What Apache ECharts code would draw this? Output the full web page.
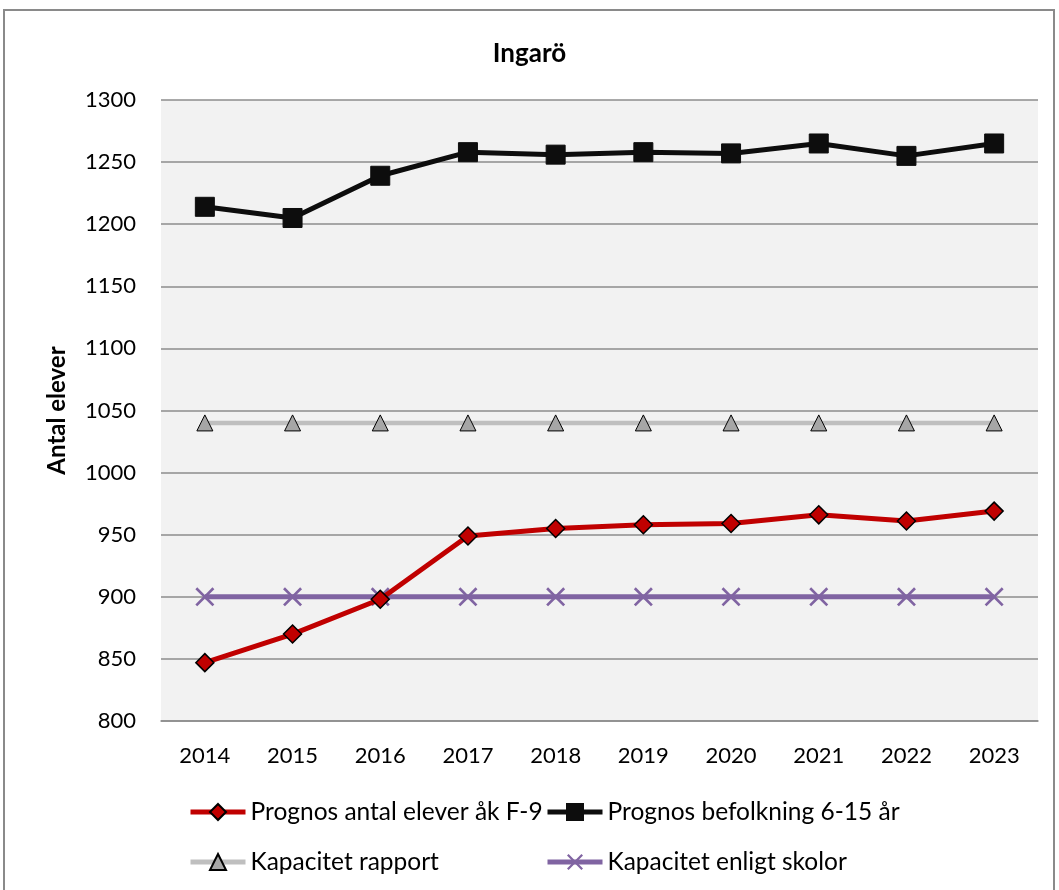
<!DOCTYPE html>
<html>
<head>
<meta charset="utf-8">
<script src="https://cdn.jsdelivr.net/npm/echarts@6/dist/echarts.min.js"></script>
<style>
  html, body { margin: 0; padding: 0; background: #fff; }
  #chart { width: 1059px; height: 890px; }
</style>
</head>
<body>
<div id="chart"></div>
<script>
// kategorier och serier
var years = ['2014', '2015', '2016', '2017', '2018', '2019', '2020', '2021', '2022', '2023'];
var elever = [847, 870, 898, 949, 955, 958, 959, 966, 961, 969];       // Prognos antal elever åk F-9
var befolkning = [1214, 1205, 1239, 1258, 1256, 1258, 1257, 1265, 1255, 1265]; // Prognos befolkning 6-15 år
var kapRapport = [1040, 1040, 1040, 1040, 1040, 1040, 1040, 1040, 1040, 1040];
var kapSkolor = [900, 900, 900, 900, 900, 900, 900, 900, 900, 900];

var fontFam = 'Lato, "Open Sans", sans-serif';
// kryss-symbol (fylld polygon)
var crossPath = 'path://M0,1L1,0L5,4L9,0L10,1L6,5L10,9L9,10L5,6L1,10L0,9L4,5Z';

var legendText = { fontFamily: fontFam, fontSize: 24.5, color: '#000', lineHeight: 28 };

var chart = echarts.init(document.getElementById('chart'));
var option = {
    animation: false,
    textStyle: { fontFamily: fontFam },
    graphic: [{
        type: 'rect',
        shape: { x: 4, y: 10, width: 1050, height: 900 },
        style: { fill: 'none', stroke: '#8a8a8a', lineWidth: 2 },
        silent: true
    }],
    title: {
        text: 'Ingarö',
        left: 'center',
        top: 36,
        textStyle: { fontFamily: fontFam, fontSize: 26, fontWeight: 'bold', color: '#000' }
    },
    grid: {
        left: 161, right: 21, top: 100, bottom: 169,
        show: true, backgroundColor: '#F2F2F2', borderWidth: 0
    },
    legend: [{
        orient: 'vertical',
        left: 188, top: 798, padding: 0,
        itemWidth: 55, itemHeight: 20, itemGap: 22,
        lineStyle: { width: 5 },
        textStyle: legendText,
        data: ['Prognos antal elever åk F-9', 'Kapacitet rapport']
    }, {
        orient: 'vertical',
        left: 545, top: 798, padding: 0,
        itemWidth: 55, itemHeight: 20, itemGap: 22,
        lineStyle: { width: 5 },
        textStyle: legendText,
        data: ['Prognos befolkning 6-15 år', 'Kapacitet enligt skolor']
    }],
    xAxis: {
        type: 'category',
        data: years,
        boundaryGap: true,
        axisLine: { show: true, lineStyle: { color: '#8c8c8c', width: 1.5 } },
        axisTick: { show: false },
        axisLabel: { fontFamily: fontFam, fontSize: 22, color: '#000', margin: 24 }
    },
    yAxis: {
        type: 'value',
        min: 800, max: 1300, interval: 50,
        name: 'Antal elever',
        nameLocation: 'middle',
        nameGap: 92,
        nameTextStyle: { fontFamily: fontFam, fontSize: 24, fontWeight: 'bold', color: '#000' },
        axisLine: { show: false },
        axisTick: { show: false },
        axisLabel: {
            fontFamily: fontFam, fontSize: 22, color: '#000', margin: 25,
            formatter: function (v) { return String(v); }
        },
        splitLine: { lineStyle: { color: '#8c8c8c', width: 1.5 } }
    },
    series: [{
        name: 'Prognos antal elever åk F-9',
        type: 'line',
        data: elever,
        symbol: 'diamond', symbolSize: 18,
        lineStyle: { color: '#C00000', width: 5 },
        itemStyle: { color: '#C00000', borderColor: '#000', borderWidth: 1.5 },
        z: 4
    }, {
        name: 'Prognos befolkning 6-15 år',
        type: 'line',
        data: befolkning,
        symbol: 'rect', symbolSize: 19,
        lineStyle: { color: '#0D0D0D', width: 5 },
        itemStyle: { color: '#0D0D0D', borderColor: '#0D0D0D', borderWidth: 1 },
        z: 4
    }, {
        name: 'Kapacitet rapport',
        type: 'line',
        data: kapRapport,
        symbol: 'triangle', symbolSize: 16,
        lineStyle: { color: '#BFBFBF', width: 4.5 },
        itemStyle: { color: '#A6A6A6', borderColor: '#000', borderWidth: 1 },
        z: 3
    }, {
        name: 'Kapacitet enligt skolor',
        type: 'line',
        data: kapSkolor,
        symbol: crossPath, symbolSize: 19,
        lineStyle: { color: '#8064A2', width: 5 },
        itemStyle: { color: '#8064A2' },
        z: 3
    }]
};
chart.setOption(option);
</script>
</body>
</html>
